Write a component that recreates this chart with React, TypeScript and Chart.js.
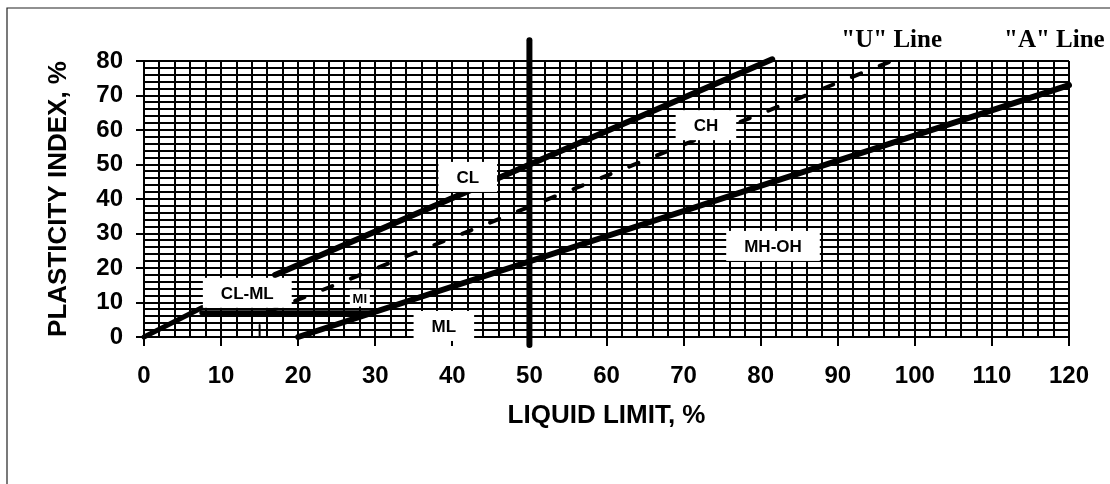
import { useEffect, useRef } from "react";
import { Chart, registerables } from "chart.js";

Chart.register(...registerables);

// ---- data ----
const xRange = [0, 120];
const yRange = [0, 80];
const gridStep = 2;
const labelStep = 10;

const aLine = [{ x: 20, y: 0 }, { x: 120, y: 73 }];
const uLine = [{ x: 16, y: 7.2 }, { x: 97, y: 80 }];
const clchLine = [{ x: 17, y: 18 }, { x: 81.5, y: 80.5 }];
const lowDiag = [{ x: 0, y: 0 }, { x: 7.5, y: 8.5 }];
const clmlLine = [{ x: 7.5, y: 7 }, { x: 29.6, y: 7 }];
const ll50Line = [{ x: 50, y: -2.3 }, { x: 50, y: 86 }];
const smallMark = [{ x: 15, y: 0 }, { x: 15, y: 3.5 }];

const zoneLabels = ["CL", "CH", "CL-ML", "MI", "ML", "MH-OH"];
const zoneX = [42.0, 72.9, 13.4, 28.0, 38.9, 81.6];
const zoneY = [46.4, 61.4, 12.8, 11.3, 3.2, 26.4];

const lineLabels = ['"U" Line', '"A" Line'];
const lineLabelX = [97.0, 118.1];
const lineLabelY = [85.8, 85.8];

const xTitle = "LIQUID LIMIT, %";
const yTitle = "PLASTICITY INDEX, %";

const SANS = '"Liberation Sans", Arial, sans-serif';
const SERIF = '"Liberation Serif", "Times New Roman", serif';

const annotPlugin = {
  id: "annot",
  beforeDraw(chart: any) {
    const ctx = chart.ctx;
    ctx.save();
    ctx.fillStyle = "#fff";
    ctx.fillRect(0, 0, chart.width, chart.height);
    ctx.strokeStyle = "#222";
    ctx.lineWidth = 1.2;
    ctx.beginPath();
    ctx.moveTo(7, chart.height);
    ctx.lineTo(7, 8);
    ctx.lineTo(chart.width, 8);
    ctx.stroke();
    ctx.restore();
  },
  afterDatasetsDraw(chart: any) {
    const ctx = chart.ctx;
    const xs = chart.scales.x;
    const ys = chart.scales.y;
    ctx.save();
    ctx.textAlign = "center";
    ctx.textBaseline = "middle";
    zoneLabels.forEach((t, i) => {
      const px = xs.getPixelForValue(zoneX[i]);
      const py = ys.getPixelForValue(zoneY[i]);
      const small = t === "MI";
      ctx.font = small ? `bold 13px ${SANS}` : `bold 17px ${SANS}`;
      const w = small ? 20 : ctx.measureText(t).width + 36;
      const h = small ? 17 : 30;
      ctx.fillStyle = "#fff";
      ctx.fillRect(px - w / 2, py - h / 2, w, h);
      ctx.fillStyle = "#000";
      ctx.fillText(t, px, py + 1);
    });
    ctx.font = `bold 25px ${SERIF}`;
    ctx.fillStyle = "#000";
    lineLabels.forEach((t, i) => {
      ctx.fillText(t, xs.getPixelForValue(lineLabelX[i]), ys.getPixelForValue(lineLabelY[i]));
    });
    ctx.restore();
  },
};

function lineDs(data: any[], width: number, dash: number[] = []) {
  return {
    data,
    showLine: true,
    borderColor: "#000",
    backgroundColor: "#000",
    borderWidth: width,
    borderDash: dash,
    borderCapStyle: "round",
    pointRadius: 0,
    pointHoverRadius: 0,
    clip: false,
  };
}

export default function App() {
  const ref = useRef<HTMLCanvasElement>(null);
  useEffect(() => {
    if (!ref.current) return;
    const tickColor = (c: any) =>
      c.tick && Number(c.tick.value) % labelStep === 0 ? "#000" : "rgba(0,0,0,0)";
    const tickCb = (v: any) => (Number(v) % labelStep === 0 ? String(v) : "");
    const chart = new Chart(ref.current, {
      type: "scatter",
      data: {
        datasets: [
          lineDs(aLine, 6),
          lineDs(uLine, 4, [10, 20]),
          lineDs(clchLine, 6),
          lineDs(lowDiag, 5),
          lineDs(clmlLine, 5),
          lineDs(ll50Line, 6),
          lineDs(smallMark, 2),
        ] as any,
      },
      options: {
        animation: false,
        responsive: false,
        events: [],
        layout: { padding: { top: 61, right: 41, bottom: 0, left: 0 } },
        plugins: { legend: { display: false }, tooltip: { enabled: false } },
        scales: {
          x: {
            type: "linear",
            min: xRange[0],
            max: xRange[1],
            ticks: {
              stepSize: gridStep,
              autoSkip: false,
              maxRotation: 0,
              minRotation: 0,
              callback: tickCb,
              color: "#000",
              padding: 16,
              font: { family: SANS, size: 24, weight: "bold" },
            },
            grid: {
              color: "#000",
              lineWidth: 2,
              tickLength: 9,
              tickColor,
              tickWidth: 2,
            },
            border: { color: "#000", width: 2 },
            title: {
              display: true,
              text: xTitle,
              color: "#000",
              font: { family: SANS, size: 26, weight: "bold" },
              padding: { top: 0, bottom: 53 },
            },
            afterFit: (s: any) => {
              s.height = 147;
            },
          },
          y: {
            type: "linear",
            min: yRange[0],
            max: yRange[1],
            ticks: {
              stepSize: gridStep,
              autoSkip: false,
              callback: tickCb,
              color: "#000",
              padding: 13,
              font: { family: SANS, size: 24, weight: "bold" },
            },
            grid: {
              color: "#000",
              lineWidth: 2,
              tickLength: 8,
              tickColor,
              tickWidth: 2,
            },
            border: { color: "#000", width: 2 },
            title: {
              display: true,
              text: yTitle,
              color: "#000",
              font: { family: SANS, size: 26, weight: "bold" },
              padding: { top: 43, bottom: 0 },
            },
            afterFit: (s: any) => {
              s.width = 144;
            },
          },
        },
      },
      plugins: [annotPlugin],
    } as any);
    return () => chart.destroy();
  }, []);
  return (
    <div style={{ position: "fixed", left: 0, top: 0, width: 1110, height: 484, background: "#fff" }}>
      <canvas ref={ref} width={1110} height={484} style={{ display: "block" }} />
    </div>
  );
}
